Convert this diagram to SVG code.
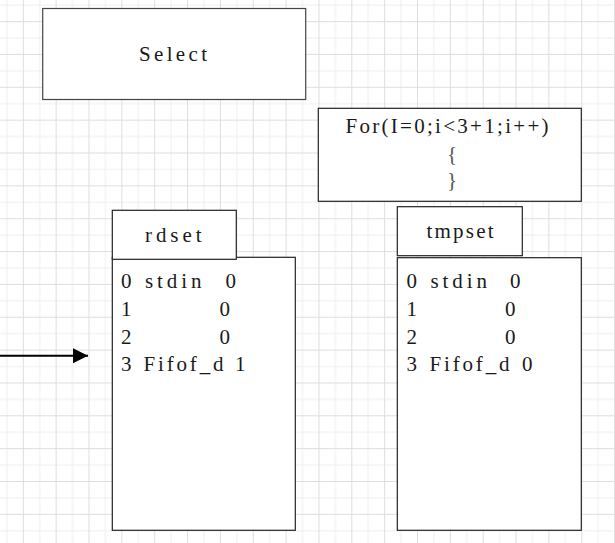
<svg xmlns="http://www.w3.org/2000/svg" width="615" height="543" viewBox="0 0 615 543">
  <defs>
    <pattern id="grid" patternUnits="userSpaceOnUse" x="22.8" y="21.1" width="32.85" height="32.85">
      <path d="M16.92,0 V32.85 M0,16.92 H32.85" stroke="#eeeeee" stroke-width="1" fill="none"/>
      <path d="M0.5,0 V32.85 M0,0.5 H32.85" stroke="#dedede" stroke-width="1" fill="none"/>
    </pattern>
    <marker id="arrow" markerUnits="userSpaceOnUse" markerWidth="16" markerHeight="16" refX="15" refY="8" orient="auto">
      <path d="M0,0.5 L15,8 L0,15.5 Z" fill="#000"/>
    </marker>
    <style>
      .box { fill: #ffffff; stroke: #222222; stroke-width: 1.2; }
      .t { font-family: "Liberation Serif", "DejaVu Serif", serif; font-size: 21px; fill: #1a1a1a; }
      .mid { text-anchor: middle; }
      .brace { fill: #555555; }
    </style>
  </defs>
  <rect x="0" y="0" width="615" height="543" fill="#ffffff"/>
  <rect x="0" y="0" width="615" height="543" fill="url(#grid)"/>

  <g id="connectors">
    <line x1="0" y1="355.7" x2="88" y2="355.7" stroke="#000" stroke-width="2" marker-end="url(#arrow)"/>
  </g>

  <g id="select">
    <rect class="box" x="42.7" y="8.5" width="263" height="91" style="stroke:#444"/>
    <text class="t" x="139" y="61" textLength="68" lengthAdjust="spacing">Select</text>
  </g>

  <g id="for-loop">
    <rect class="box" x="318.3" y="108.3" width="263" height="93"/>
    <text class="t" x="345.5" y="133" textLength="203" lengthAdjust="spacing">For(I=0;i&lt;3+1;i++)</text>
    <text class="t mid brace" x="452" y="161">{</text>
    <text class="t mid brace" x="452" y="187">}</text>
  </g>

  <g id="rdset">
    <rect class="box" x="112.3" y="257.3" width="183" height="273"/>
    <rect class="box" x="112.3" y="210.3" width="124" height="49"/>
    <text class="t" x="145" y="242" textLength="56.5" lengthAdjust="spacing">rdset</text>
    <text class="t" x="121" y="288">0</text>
    <text class="t" x="145" y="288" textLength="56.5" lengthAdjust="spacing">stdin</text>
    <text class="t" x="225.5" y="288">0</text>
    <text class="t" x="121" y="316">1</text>
    <text class="t" x="219.5" y="316">0</text>
    <text class="t" x="121" y="343.5">2</text>
    <text class="t" x="219.5" y="343.5">0</text>
    <text class="t" x="121" y="371">3</text>
    <text class="t" x="143.5" y="371" textLength="80" lengthAdjust="spacing">Fifof_d</text>
    <text class="t" x="235" y="371">1</text>
  </g>

  <g id="tmpset">
    <rect class="box" x="397.3" y="257.7" width="184" height="272.6"/>
    <rect class="box" x="397.3" y="206.7" width="125" height="49"/>
    <text class="t" x="426.5" y="238" textLength="67" lengthAdjust="spacing">tmpset</text>
    <text class="t" x="406.5" y="288">0</text>
    <text class="t" x="430.5" y="288" textLength="56.5" lengthAdjust="spacing">stdin</text>
    <text class="t" x="510" y="288">0</text>
    <text class="t" x="406.5" y="316">1</text>
    <text class="t" x="505" y="316">0</text>
    <text class="t" x="406.5" y="343.5">2</text>
    <text class="t" x="505" y="343.5">0</text>
    <text class="t" x="406.5" y="371">3</text>
    <text class="t" x="429.5" y="371" textLength="80" lengthAdjust="spacing">Fifof_d</text>
    <text class="t" x="522" y="371">0</text>
  </g>
</svg>
